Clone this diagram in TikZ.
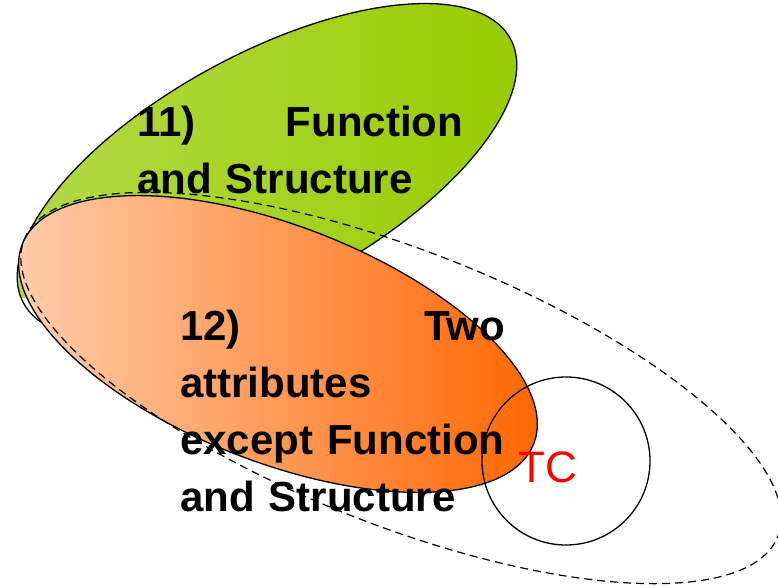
\documentclass[tikz,border=0pt]{standalone}
\usepackage{fontspec}
\setmainfont{Liberation Sans}
\definecolor{leafhi}{RGB}{178,218,72}
\definecolor{leaflo}{RGB}{153,204,0}
\definecolor{peachhi}{RGB}{255,204,170}
\definecolor{peachlo}{RGB}{255,102,0}
\begin{document}
\begin{tikzpicture}[x=1pt, y=1pt,
                    outline/.style={
                        draw=black,
                        line width=1.3pt
                    },
                    ringline/.style={
                        draw=black,
                        line width=1.2pt,
                        dash pattern=on 8pt off 5pt
                    },
                    blocktext/.style={
                        anchor=base west,
                        inner sep=0pt,
                        align=left,
                        font=\fontsize{42}{57}\selectfont\bfseries
                    }
                ]
    \useasboundingbox (0,0) rectangle (778,587);

    % Function and Structure (green, top)
    \begin{scope}
        \clip[rotate around={28.5:(267,416)}] (267,416) ellipse [x radius=277, y radius=117];
        \shade[left color=leafhi, right color=leaflo] (15,290) rectangle (525,587);
    \end{scope}
    \path[outline, rotate around={28.5:(267,416)}] (267,416) ellipse [x radius=277, y radius=117];

    % Two attributes (orange, below)
    \begin{scope}
        \clip[rotate around={-21.3:(278,243)}] (278,243) ellipse [x radius=274.5, y radius=118];
        \shade[left color=peachhi, right color=peachlo] (18,90) rectangle (542,395);
    \end{scope}
    \path[outline, rotate around={-21.3:(278,243)}] (278,243) ellipse [x radius=274.5, y radius=118];

    % dashed envelope
    \path[ringline, rotate around={-21.5:(401,199)}] (401,199) ellipse [x radius=405, y radius=137];

    % TC circle
    \path[outline] (566,126) circle [radius=84];

    % labels
    \node[blocktext, text width=326pt] (fsText) at (137,450)
        {11)\hspace{\fill}Function\\and Structure};
    \node[blocktext, text width=325pt] (twoText) at (180,247)
        {12)\hspace{\fill}Two\\attributes\\except Function\\and Structure};
    \node[text=red, font=\fontsize{44}{50}\selectfont, inner sep=0pt] (tcText) at (548,120) {TC};
\end{tikzpicture}
\end{document}
